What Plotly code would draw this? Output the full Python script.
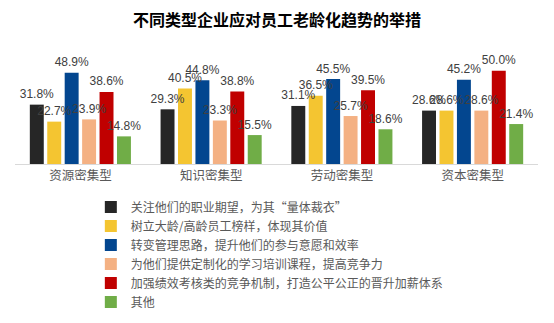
import plotly.graph_objects as go

categories = ["资源密集型", "知识密集型", "劳动密集型", "资本密集型"]
series_names = [
    "关注他们的职业期望，为其“量体裁衣”",
    "树立大龄/高龄员工榜样，体现其价值",
    "转变管理思路，提升他们的参与意愿和效率",
    "为他们提供定制化的学习培训课程，提高竞争力",
    "加强绩效考核类的竞争机制，打造公平公正的晋升加薪体系",
    "其他",
]
s1 = [31.8, 29.3, 31.1, 28.6]
s2 = [22.7, 40.5, 36.5, 28.6]
s3 = [48.9, 44.8, 45.5, 45.2]
s4 = [23.9, 23.3, 25.7, 28.6]
s5 = [38.6, 38.8, 39.5, 50.0]
s6 = [14.8, 15.5, 18.6, 21.4]
series_values = [s1, s2, s3, s4, s5, s6]
colors = ["#262626", "#F4C531", "#03468F", "#F4B183", "#C00000", "#70AD47"]

fig = go.Figure()
for name, vals, c in zip(series_names, series_values, colors):
    fig.add_trace(go.Bar(
        x=categories, y=vals, name=name, offsetgroup=name,
        marker=dict(color=c, line=dict(width=0)),
        showlegend=True,
    ))
for name, vals, c in zip(series_names, series_values, colors):
    fig.add_trace(go.Scatter(
        x=categories, y=vals, name=name, showlegend=False,
        mode="markers+text", offsetgroup=name,
        marker=dict(size=4, color="rgba(0,0,0,0)"),
        text=[f"{v:.1f}%" for v in vals],
        textposition="top center",
        textfont=dict(family="Liberation Sans, Arial, sans-serif", size=12, color="#404040"),
        cliponaxis=False, hoverinfo="skip",
    ))

fig.update_layout(
    width=554, height=323,
    margin=dict(l=15, r=16, t=52, b=159, autoexpand=False),
    paper_bgcolor="white", plot_bgcolor="white",
    barmode="group", bargap=0.2, bargroupgap=0.2,
    scattermode="group", scattergap=0.2,
    title=dict(text="<b>不同类型企业应对员工老龄化趋势的举措</b>",
               x=0.5, xanchor="center", y=0.938, yanchor="middle",
               font=dict(family="Noto Sans CJK SC", size=16, color="#000000")),
    xaxis=dict(showline=True, linecolor="#D9D9D9", linewidth=1, ticks="",
               tickfont=dict(family="Noto Sans CJK SC", size=12.5, color="#595959")),
    yaxis=dict(range=[0, 60], visible=False, showgrid=False),
    legend=dict(orientation="v", x=0.145, xanchor="left", y=-0.254, yanchor="top",
                font=dict(family="Noto Sans CJK SC", size=12, color="#595959"),
                itemwidth=30, bgcolor="rgba(0,0,0,0)"),
    showlegend=True,
)
fig.write_html("out.html")
